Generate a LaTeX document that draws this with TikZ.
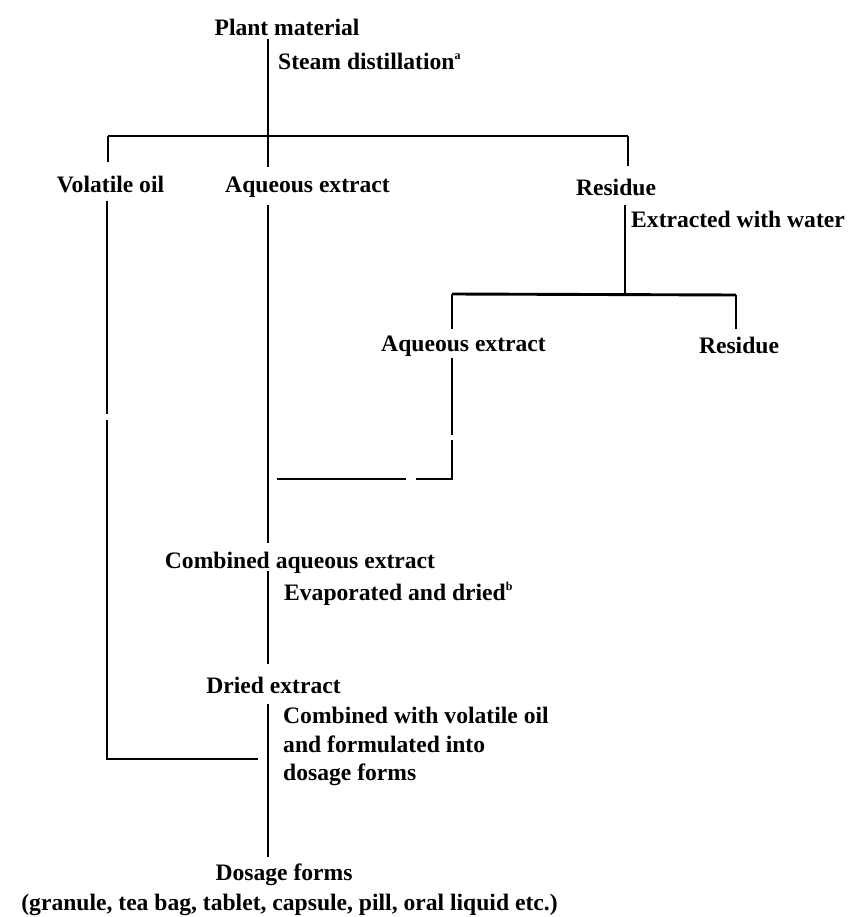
\documentclass[tikz,border=0pt]{standalone}
\usepackage{fontspec}
\setmainfont{Liberation Serif}
\usepackage{tikz}

\newcommand\flowfont{\bfseries\fontsize{23.6}{28.5}\selectfont}
\newcommand\fnmark[1]{\raisebox{10pt}{\fontsize{12}{12}\selectfont #1}}

\begin{document}
\begin{tikzpicture}[x=1pt, y=-1pt,
    lbl/.style={inner sep=0pt, font=\flowfont},
    link/.style={line width=2.9pt}]
    \useasboundingbox (0,0) rectangle (849,917);

    % Products
    \node[lbl, anchor=base] (plant) at (287,36) {Plant material};
    \node[lbl, anchor=base] (vol) at (110.5,193) {Volatile oil};
    \node[lbl, anchor=base] (aq) at (307.5,193) {Aqueous extract};
    \node[lbl, anchor=base] (res) at (616,196) {Residue};
    \node[lbl, anchor=base] (aqtwo) at (463.5,351) {Aqueous extract};
    \node[lbl, anchor=base] (restwo) at (739,353) {Residue};
    \node[lbl, anchor=base] (comb) at (300,568) {Combined aqueous extract};
    \node[lbl, anchor=base] (dried) at (273.5,693) {Dried extract};
    \node[lbl, anchor=base] (dosage) at (284,880) {Dosage forms};
    \node[lbl, anchor=base] (kinds) at (289.5,910)
        {(granule, tea bag, tablet, capsule, pill, oral liquid etc.)};

    % Steps
    \node[lbl, anchor=base west] (steam) at (278,70) {Steam distillation\fnmark{a}};
    \node[lbl, anchor=base west] (water) at (631,228) {Extracted with water};
    \node[lbl, anchor=base west] (evap) at (284,600) {Evaporated and dried\fnmark{b}};
    \node[lbl, anchor=north west, align=left] (formul) at (283,707)
        {Combined with volatile oil\\and formulated into\\dosage forms};

    % Branch points
    \coordinate (bl) at (108,136);
    \coordinate (bm) at (268,136);
    \coordinate (br) at (628,136);
    \coordinate (cl) at (452,294);
    \coordinate (cm) at (625,294);
    \coordinate (cr) at (736,295);
    \coordinate (join) at (452,479);
    \coordinate (joinend) at (277,479);
    \coordinate (volend) at (107,759);
    \coordinate (oilend) at (258,759);

    % First split
    \draw[link, shorten <=3pt] (bm |- plant.south) -- (bm);
    \draw[link] (bl) -- (br);
    \draw[link, shorten >=14pt] (bl) -- (bl |- vol.north);
    \draw[link, shorten >=10pt] (bm) -- (bm |- aq.north);
    \draw[link, shorten >=13pt] (br) -- (br |- res.north);

    % Residue extracted again
    \draw[link, shorten <=9pt] (cm |- res.south) -- (cm);
    \draw[link] (cl) -- (cr);
    \draw[link, shorten >=6.5pt] (cl) -- (cl |- aqtwo.north);
    \draw[link, shorten >=7pt] (cr) -- (cr |- restwo.north);
    \draw[link, shorten <=2pt, dash pattern=on 77pt off 5pt on 75pt off 10pt on 300pt]
        (join |- aqtwo.south) -- (join) -- (joinend);

    % Main column
    \draw[link, shorten <=7pt, shorten >=8.5pt] (bm |- aq.south) -- (bm |- comb.north);
    \draw[link, shorten <=-2pt, shorten >=12.5pt] (bm |- comb.south) -- (bm |- dried.north);
    \draw[link, shorten <=11pt, shorten >=6.5pt] (bm |- dried.south) -- (bm |- dosage.north);

    % Volatile oil back in
    \draw[link, shorten <=7pt, dash pattern=on 213pt off 6pt on 700pt]
        (volend |- vol.south) -- (volend) -- (oilend);
\end{tikzpicture}
\end{document}
